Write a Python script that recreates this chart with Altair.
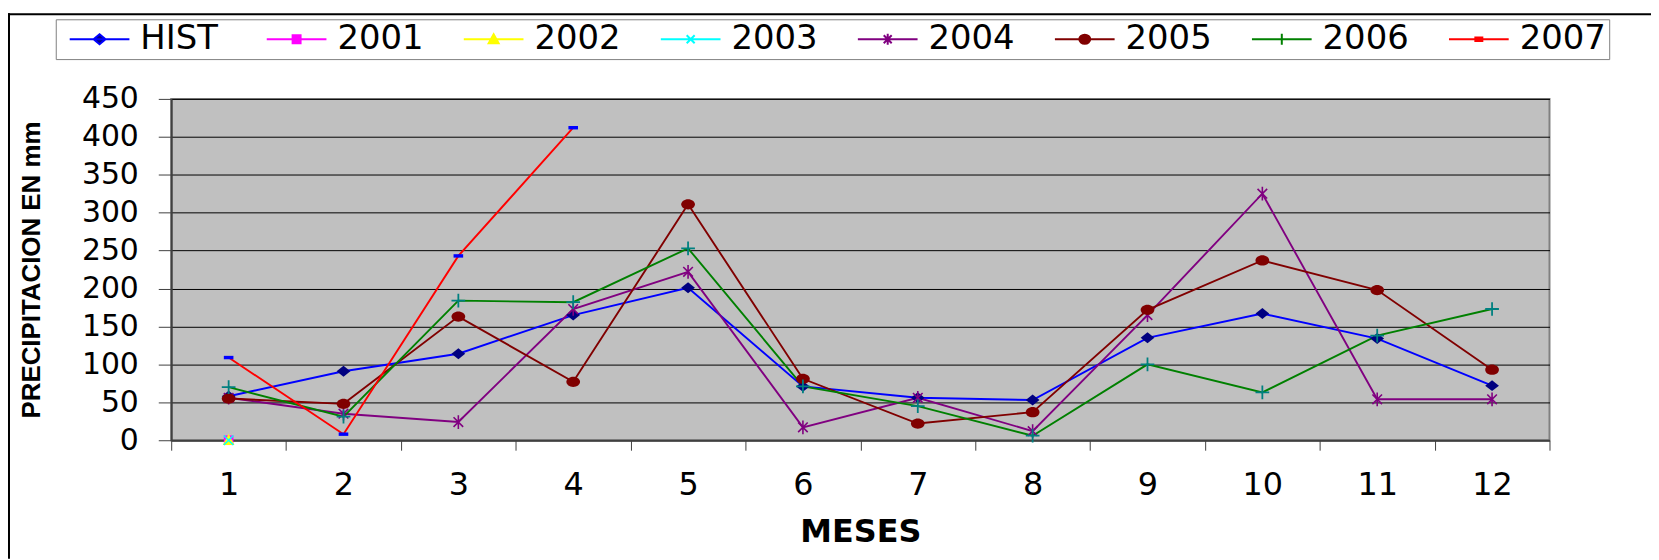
import altair as alt
import pandas as pd

MONTHS = list(range(1, 13))
SERIES = ["HIST", "2001", "2002", "2003", "2004", "2005", "2006", "2007"]
HIST = [58, 91, 114, 165, 201, 71, 56, 53, 135, 167, 134, 72]
Y2001 = [0] + [None] * 11
Y2002 = [0] + [None] * 11
Y2003 = [0] + [None] * 11
Y2004 = [56, 35, 24, 173, 222, 17, 56, 12, 165, 325, 54, 54]
Y2005 = [55, 48, 163, 77, 311, 81, 22, 37, 172, 237, 198, 93]
Y2006 = [70, 31, 184, 182, 253, 71, 45, 6, 100, 63, 138, 173]
Y2007 = [109, 8, 243, 412] + [None] * 8
Y_TICKS = list(range(0, 451, 50))

LINE_COLORS = ["#0000FF", "#FF00FF", "#FFFF00", "#00FFFF", "#800080", "#800000", "#008000", "#FF0000"]
MARKER_COLORS = ["#000080", "#FF00FF", "#FFFF00", "#00FFFF", "#800080", "#800000", "#008080", "#0000FF"]

VALUES = dict(zip(SERIES, [HIST, Y2001, Y2002, Y2003, Y2004, Y2005, Y2006, Y2007]))
rows = [{"month": m, "series": s, "value": v}
        for s in SERIES for m, v in zip(MONTHS, VALUES[s]) if v is not None]
df = pd.DataFrame(rows)

# marker paths (unit box [-1,1])
MARKERS = {
    "HIST": ("M0,-0.8L1,0L0,0.8L-1,0Z", True, 1),
    "2001": ("M-0.7,-0.7H0.7V0.7H-0.7Z", True, 1),
    "2002": ("M0,-0.9L0.85,0.7H-0.85Z", True, 1),
    "2003": ("M-0.7,-0.7L0.7,0.7M-0.7,0.7L0.7,-0.7", False, 1.6),
    "2004": ("M-0.7,-0.7L0.7,0.7M-0.7,0.7L0.7,-0.7M0,-1V1", False, 1.6),
    "2005": ("M-1,0A1,0.75 0 1,0 1,0A1,0.75 0 1,0 -1,0Z", True, 1),
    "2006": ("M-1,0H1M0,-1V1", False, 1.8),
    "2007": ("M-0.7,-0.25H0.7V0.25H-0.7Z", True, 1),
}
LEGEND_PATHS = [
    "M-1.2,0H10.8M4.8,-1L6,0L4.8,1L3.6,0Z",
    "M-1.2,0H10.8M4,-0.8H5.6V0.8H4Z",
    "M-1.2,0H10.8M4.8,-1L5.8,0.8H3.8Z",
    "M-1.2,0H10.8M4,-0.8L5.6,0.8M4,0.8L5.6,-0.8",
    "M-1.2,0H10.8M4,-0.8L5.6,0.8M4,0.8L5.6,-0.8M4.8,-1.1V1.1",
    "M-1.2,0H10.8M3.7,0A1.1,0.9 0 1,0 5.9,0A1.1,0.9 0 1,0 3.7,0Z",
    "M-1.2,0H10.8M3.7,0H5.9M4.8,-1.1V1.1",
    "M-1.2,0H10.8M4.1,-0.35H5.5V0.35H4.1Z",
]

x_axis = alt.Axis(title="MESES", labelAngle=0, labelFont="DejaVu Sans", labelFontSize=32,
                  labelColor="black", labelPadding=20, tickBand="extent", tickSize=10,
                  tickColor="#404040", domainColor="#404040", domainWidth=2, grid=False,
                  titleFont="DejaVu Sans", titleFontSize=32, titleFontWeight="bold",
                  titleColor="black", titleY=92, titleBaseline="middle")
y_axis = alt.Axis(title="PRECIPITACION EN mm", values=Y_TICKS, labelFont="DejaVu Sans",
                  labelFontSize=30, labelColor="black", labelPadding=20, tickSize=13,
                  tickColor="#404040", domainColor="#404040", domainWidth=2,
                  grid=True, gridColor="black", gridWidth=1,
                  titleFont="Liberation Sans", titleFontSize=26, titleFontWeight="bold",
                  titleColor="black", titleX=-140, titleBaseline="middle")

x_enc = alt.X("month:O", scale=alt.Scale(type="band", paddingInner=0, paddingOuter=0), axis=x_axis)
y_enc = alt.Y("value:Q", scale=alt.Scale(domain=[0, 450], nice=False), axis=y_axis)

stroke_scale = alt.Scale(domain=SERIES, range=LINE_COLORS)
legend = alt.Legend(title=None)

base = alt.Chart(df)

lines = base.mark_line(strokeWidth=1.9).encode(
    x=x_enc, y=y_enc,
    stroke=alt.Stroke("series:N", scale=stroke_scale, legend=legend),
    order=alt.Order("month:O"),
)

point_layers = []
for s, mc in zip(SERIES, MARKER_COLORS):
    path, filled, sw = MARKERS[s]
    point_layers.append(
        base.transform_filter(alt.datum.series == s).mark_point(
            shape=path, size=190, filled=filled, color=mc, opacity=1, strokeWidth=sw
        ).encode(x=x_enc, y=y_enc)
    )

legend_layer = base.transform_filter(alt.datum.value < -1000).mark_point(
    filled=True, opacity=1, strokeWidth=2
).encode(
    x=x_enc, y=y_enc,
    stroke=alt.Stroke("series:N", scale=stroke_scale, legend=legend),
    fill=alt.Fill("series:N", scale=alt.Scale(domain=SERIES, range=MARKER_COLORS), legend=legend),
    shape=alt.Shape("series:N", scale=alt.Scale(domain=SERIES, range=LEGEND_PATHS), legend=legend),
)

frame_data = alt.Data(values=[{"k": 1}])
frame_top = alt.Chart(frame_data).mark_rule(color="black", strokeWidth=2).encode(
    x=alt.value(-164), x2=alt.value(1487), y=alt.value(-85))
frame_left = alt.Chart(frame_data).mark_rule(color="black", strokeWidth=2).encode(
    x=alt.value(-163), y=alt.value(-86), y2=alt.value(462))

chart = alt.layer(lines, *point_layers, legend_layer, frame_top, frame_left).properties(
    width=1385, height=343,
    background="white",
    autosize=alt.AutoSizeParams(type="none"),
    padding={"left": 164, "top": 90, "right": 102, "bottom": 119},
).configure_view(
    fill="#C0C0C0", stroke="#808080", strokeWidth=2
).configure_legend(
    orient="none", legendX=-116, legendY=-80, direction="horizontal", columns=8,
    gridAlign="all", symbolSize=100, symbolStrokeWidth=2, labelFont="DejaVu Sans",
    labelFontSize=34, labelColor="black", labelOffset=48, columnPadding=29, padding=3,
    strokeColor="#808080", fillColor="white", cornerRadius=0, labelLimit=300,
)

chart.save("out.html", embed_options={"renderer": "svg", "actions": False})
